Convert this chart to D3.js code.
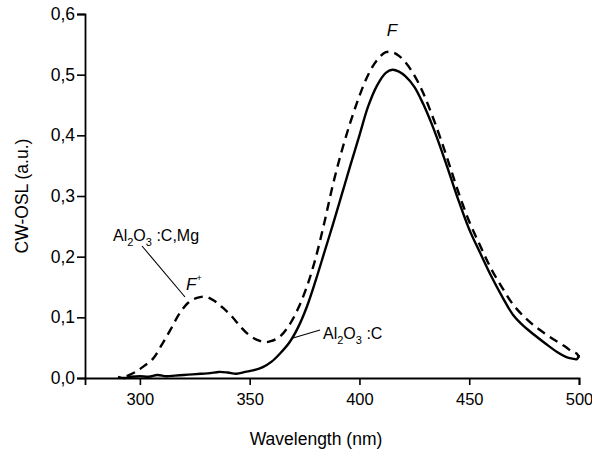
<!DOCTYPE html>
<html>
<head>
<meta charset="utf-8">
<script src="https://cdn.jsdelivr.net/npm/d3@7"></script>
<style>
  html, body { margin: 0; padding: 0; background: #fff; }
  svg { display: block; font-family: "Liberation Sans", Arial, sans-serif; }
</style>
</head>
<body>
<svg id="chart" width="592" height="452"></svg>
<script>
// ---- data ----
const wlSolid = [290, 293, 296, 300, 304, 308, 312, 316, 320, 324, 328, 332, 336, 340, 344, 348, 352, 356, 360, 364, 368, 372, 376, 380, 384, 388, 392, 396, 400, 404, 408, 412, 415, 418, 421, 425, 429, 433, 437, 441, 445, 450, 455, 460, 465, 470, 475, 480, 485, 490, 494, 497, 499, 500];
const oslSolid = [0.002, 0.000, 0.002, 0.003, 0.002, 0.005, 0.003, 0.004, 0.005, 0.006, 0.007, 0.008, 0.010, 0.009, 0.007, 0.010, 0.013, 0.018, 0.027, 0.041, 0.058, 0.083, 0.117, 0.160, 0.207, 0.254, 0.303, 0.352, 0.400, 0.448, 0.482, 0.503, 0.508, 0.505, 0.497, 0.480, 0.452, 0.418, 0.379, 0.337, 0.294, 0.245, 0.206, 0.168, 0.134, 0.104, 0.085, 0.070, 0.056, 0.043, 0.035, 0.032, 0.031, 0.038];

const wlDashed = [294, 298, 302, 306, 310, 314, 318, 322, 326, 330, 334, 338, 342, 346, 350, 354, 357, 360, 364, 368, 372, 376, 380, 384, 388, 392, 396, 400, 404, 408, 412, 415, 418, 421, 425, 429, 433, 437, 441, 445, 450, 455, 460, 465, 470, 475, 480, 485, 490, 494, 497, 499, 500];
const oslDashed = [0.003, 0.010, 0.020, 0.032, 0.055, 0.080, 0.106, 0.124, 0.132, 0.134, 0.127, 0.115, 0.101, 0.084, 0.070, 0.062, 0.059, 0.061, 0.069, 0.087, 0.114, 0.150, 0.197, 0.256, 0.320, 0.375, 0.423, 0.465, 0.500, 0.524, 0.537, 0.537, 0.531, 0.520, 0.499, 0.470, 0.434, 0.394, 0.351, 0.307, 0.258, 0.218, 0.180, 0.149, 0.121, 0.101, 0.085, 0.072, 0.060, 0.051, 0.043, 0.040, 0.033];

const xTicks = [300, 350, 400, 450, 500];
const xMinorTicks = [275, 325, 375, 425, 475];
const yTicks = [0, 0.1, 0.2, 0.3, 0.4, 0.5, 0.6];
const yMinorTicks = [0.05, 0.15, 0.25, 0.35, 0.45, 0.55];

const xTitle = "Wavelength (nm)";
const yTitle = "CW-OSL (a.u.)";

// ---- drawing ----
const svg = d3.select("#chart");
const x = d3.scaleLinear().domain([275, 500]).range([85, 579]);
const y = d3.scaleLinear().domain([0, 0.6]).range([378, 14]);
const fmt = d => d3.format(".1f")(d).replace(".", ",");

const gx = svg.append("g").attr("transform", `translate(0,${y(0)})`);
gx.call(d3.axisBottom(x).tickValues(xMinorTicks).tickSize(4).tickFormat(""));
gx.call(d3.axisBottom(x).tickValues(xTicks).tickSize(7).tickPadding(8).tickFormat(d3.format("d")));
gx.selectAll("path.domain").attr("stroke-width", 1.8);
gx.selectAll(".tick line").attr("stroke-width", 1.6);
gx.selectAll("text").attr("font-size", 16.5).attr("fill", "#000").attr("font-family", "Liberation Sans, Arial, sans-serif");

const gy = svg.append("g").attr("transform", `translate(${x(275)},0)`);
gy.call(d3.axisLeft(y).tickValues(yMinorTicks).tickSize(4).tickFormat(""));
gy.call(d3.axisLeft(y).tickValues(yTicks).tickSize(8).tickPadding(2).tickFormat(fmt));
gy.selectAll("path.domain").attr("stroke-width", 1.8);
gy.selectAll(".tick line").attr("stroke-width", 1.6);
gy.selectAll("text").attr("font-size", 17.5).attr("fill", "#000").attr("font-family", "Liberation Sans, Arial, sans-serif");

// axis titles
svg.append("text").attr("x", 316).attr("y", 445).attr("text-anchor", "middle")
  .attr("font-size", 17.5).text(xTitle);
svg.append("text").attr("transform", `translate(28,196) rotate(-90)`).attr("text-anchor", "middle")
  .attr("font-size", 17.5).text(yTitle);

// curves
const line = d3.line().x(d => x(d[0])).y(d => y(d[1])).curve(d3.curveCatmullRom.alpha(0.5));
svg.append("path").datum(wlSolid.map((w, i) => [w, oslSolid[i]]))
  .attr("d", line).attr("fill", "none").attr("stroke", "#000").attr("stroke-width", 2.4)
  .attr("stroke-linejoin", "round");
svg.append("path").datum(wlDashed.map((w, i) => [w, oslDashed[i]]))
  .attr("d", line).attr("fill", "none").attr("stroke", "#000").attr("stroke-width", 2.4)
  .attr("stroke-dasharray", "9,6");

// annotations
svg.append("text").attr("x", 392).attr("y", 36).attr("text-anchor", "middle")
  .attr("font-size", 17).attr("font-style", "italic").text("F");

const fp = svg.append("text").attr("x", 186).attr("y", 290).attr("font-size", 17).attr("font-style", "italic");
fp.append("tspan").text("F");
fp.append("tspan").attr("font-size", 9).attr("font-style", "normal").attr("dy", -9).text("+");

function formula(xp, yp, tail) {
  const t = svg.append("text").attr("x", xp).attr("y", yp).attr("font-size", 16);
  t.append("tspan").text("Al");
  t.append("tspan").attr("font-size", 11).attr("dy", 5).text("2");
  t.append("tspan").attr("dy", -5).text("O");
  t.append("tspan").attr("font-size", 11).attr("dy", 5).text("3");
  t.append("tspan").attr("dy", -5).text(tail);
}
formula(113, 241, " :C,Mg");
formula(323, 339, " :C");

// leader lines
svg.append("line").attr("x1", 142).attr("y1", 246).attr("x2", 185).attr("y2", 297)
  .attr("stroke", "#000").attr("stroke-width", 1.1);
svg.append("line").attr("x1", 293).attr("y1", 338).attr("x2", 320).attr("y2", 330)
  .attr("stroke", "#000").attr("stroke-width", 1.1);
</script>
</body>
</html>
